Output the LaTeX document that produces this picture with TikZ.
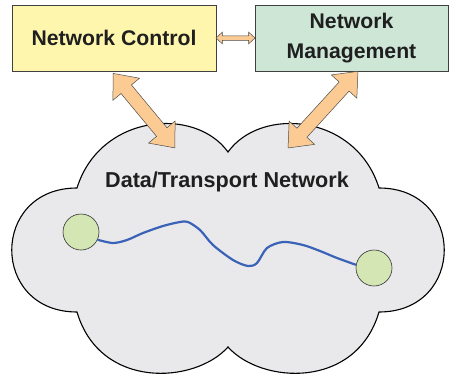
\documentclass[tikz,border=0pt]{standalone}
\usepackage{fontspec}
\setmainfont{Liberation Sans}
\usetikzlibrary{calc,shapes.arrows}
\definecolor{ctrlyellow}{HTML}{FFF6AE}
\definecolor{mgmtgreen}{HTML}{CDE6D6}
\definecolor{cloudgray}{HTML}{E9E9EB}
\definecolor{peach}{HTML}{FCCB94}
\definecolor{endgreen}{HTML}{D3E6B4}
\definecolor{pathblue}{HTML}{3A63B8}
\tikzset{
		% boxes, end points and the fat two-headed arrows
		plane box/.style={rectangle,draw=black!75,line width=0.6pt,minimum width=204pt,minimum height=66pt,align=center,text=black!88,font=\fontsize{21.2}{30}\selectfont\bfseries},
		end node/.style={circle,draw=black!80,line width=0.6pt,fill=endgreen,minimum size=36pt,inner sep=0},
		fat arrow/.style={double arrow,draw=black!70,line width=0.5pt,fill=peach,inner sep=0,inner ysep=6.5pt,minimum width=34pt,double arrow head extend=10.5pt,double arrow tip angle=80,sloped,midway},
		thin arrow/.style={double arrow,draw=black!70,line width=0.5pt,fill=peach,inner sep=0,inner ysep=2pt,minimum width=11pt,double arrow head extend=3.5pt,double arrow tip angle=85,sloped,midway}
	}

\begin{document}
\begin{tikzpicture}[x=1pt,y=1pt]
		\useasboundingbox (0,0) rectangle (449,376);
		% the data plane cloud
		\draw[fill=cloudgray,line width=1.1pt] (228,224)
		.. controls (195,270) and (100,262) .. (77,188)
		.. controls (-10,188) and (-10,64) .. (77,64)
		.. controls (100,-14) and (195,-8) .. (228,29)
		.. controls (261,-8) and (356,-14) .. (379,64)
		.. controls (466,64) and (466,188) .. (379,188)
		.. controls (356,262) and (261,270) .. cycle;
		\node[font=\fontsize{21.6}{24}\selectfont\bfseries,text=black!88] (dtn) at (227,194.5) {Data/Transport Network};
		% control and management boxes
		\node[plane box,fill=ctrlyellow] (nc) at (114,338) {Network Control};
		\node[plane box,fill=mgmtgreen,minimum width=193pt] (nm) at (351.5,338) {Network\\Management};
		\path (nc.east) -- node[thin arrow,minimum height=39pt] {} (nm.west);
		% fat arrows down into the cloud
		\coordinate (ct1) at (175,228);
		\coordinate (ct2) at (288,228);
		\coordinate (nct) at ($(nc.south)+(-1,-2)$);
		\coordinate (nmt) at ($(nm.south)+(6.5,0)$);
		\path let \p1=($(ct1)-(nct)$), \n1={veclen(\x1,\y1)} in (nct) -- node[fat arrow,minimum height=\n1] {} (ct1);
		\path let \p1=($(ct2)-(nmt)$), \n1={veclen(\x1,\y1)} in (nmt) -- node[fat arrow,minimum height=\n1] {} (ct2);
		% end points and the path between them
		\node[end node] (lc) at (81,144) {};
		\node[end node] (rc) at (374,108) {};
		\draw[pathblue,line width=2.2pt] plot[smooth,tension=0.5] coordinates {(lc.-25) (113,133) (127,136) (143,143) (163,150) (180,154) (188,154) (200,146) (213,131) (233,116) (248,110) (257,113) (267,128) (283,134) (303,131) (320,125) (337,118) (rc.170)};
	\end{tikzpicture}
\end{document}
